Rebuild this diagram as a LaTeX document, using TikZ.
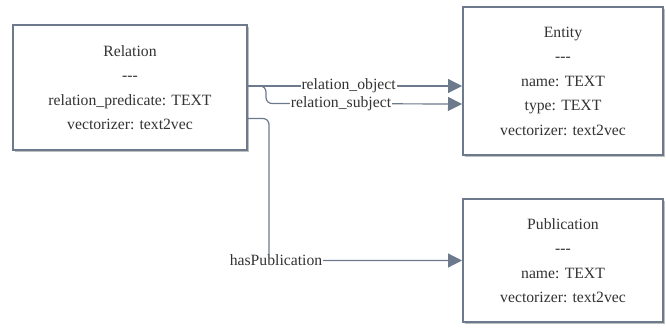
\documentclass[tikz,border=0pt]{standalone}
\usepackage{fontspec}
\setmainfont[Ligatures=NoCommon]{Liberation Serif}
\usetikzlibrary{arrows.meta, positioning, shadows}

\definecolor{edgegray}{HTML}{6C7A8C}
\definecolor{textgray}{HTML}{333333}

\begin{document}
\begin{tikzpicture}[x=1pt, y=-1pt,
            font=\fontsize{15.7}{24.5}\selectfont, text=textgray,
            classbox/.style={draw=edgegray, line width=2pt, fill=white, align=center,
                             drop shadow={shadow xshift=2pt, shadow yshift=-2pt, opacity=0.25, fill=black}},
            link/.style={draw=edgegray, line width=1.2pt, -{Triangle[length=14pt 0 0, width=14pt 0 0]}},
            linklabel/.style={fill=white, inner sep=1pt, text=textgray}]

            \useasboundingbox (0,0) rectangle (666,329);

            % Class boxes
            \node[classbox, minimum width=234pt, minimum height=125pt] (relation) at (130,87.5)
                {Relation\\-{}-{}-\\relation\_predicate: TEXT\\vectorizer: text2vec};
            \node[classbox, minimum width=200pt, minimum height=148pt] (entity) at (563,81)
                {Entity\\-{}-{}-\\name: TEXT\\type: TEXT\\vectorizer: text2vec};
            \node[classbox, minimum width=200pt, minimum height=123pt] (publication) at (563,260.5)
                {Publication\\-{}-{}-\\name: TEXT\\vectorizer: text2vec};

            % Relation -> Entity
            \draw[link] ([yshift=1.5pt]relation.east) -- ([yshift=1.5pt]relation.east -| entity.west)
                node[linklabel, pos=0.47] {relation\_object};
            \draw[link, rounded corners=6pt] ([yshift=1.5pt]relation.east) -- ++(18,0) -- ++(0,17.5)
                -- ([yshift=-16.5pt]relation.east -| entity.west);
            \node[linklabel] (subjlabel) at (341,104) {relation\_subject};

            % Relation -> Publication
            \draw[link, rounded corners=6pt] ([yshift=-31pt]relation.east)
                -| ([xshift=21pt]relation.east |- publication.west) -- (publication.west);
            \node[linklabel] (publabel) at ([xshift=28pt]relation.east |- publication.west) {hasPublication};
        \end{tikzpicture}
\end{document}
